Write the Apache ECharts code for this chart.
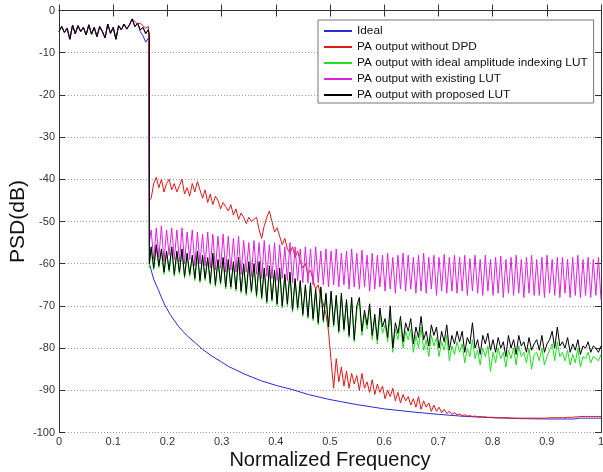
<!DOCTYPE html>
<html>
<head>
<meta charset="utf-8">
<script src="https://cdn.jsdelivr.net/npm/echarts@6/dist/echarts.min.js"></script>
<style>
html,body{margin:0;padding:0;background:#fff;}
#chart{width:603px;height:472px;}
</style>
</head>
<body>
<div id="chart"></div>
<script>
// ---------- data ----------
const SERIES_NAMES = ['Ideal', 'PA output without DPD', 'PA output with ideal amplitude indexing LUT', 'PA output with existing LUT', 'PA output with proposed LUT'];
const X_TICKS = [0, 0.1, 0.2, 0.3, 0.4, 0.5, 0.6, 0.7, 0.8, 0.9, 1];
const Y_TICKS = [-100, -90, -80, -70, -60, -50, -40, -30, -20, -10, 0];

// passband sample grid: 0 .. 0.165 step 0.005 ; band edge ; stopband grid 0.17 .. 1.0 (176 samples)
const PASS_STEP = 0.005, PASS_N = 34;
const BAND_EDGE = 0.1667;
const STOP_START = 0.17, STOP_END = 1.0, STOP_N = 176;

const PASS_BLACK = [-5.0, -3.8, -5.2, -4.2, -6.8, -3.5, -5.5, -3.6, -5.0, -4.0, -5.8, -3.4, -5.6, -4.0, -6.2, -3.8, -5.0, -6.5, -3.2, -5.4, -4.0, -6.8, -3.6, -4.6, -3.2, -4.4, -3.4, -2.0, -3.8, -3.0, -4.6, -4.0, -5.5, -4.5];
const PASS_RED   = [-5.0, -3.8, -5.2, -4.2, -6.8, -3.5, -5.5, -3.6, -5.0, -4.0, -5.8, -3.4, -5.6, -4.0, -6.2, -3.8, -5.0, -6.5, -3.2, -5.4, -4.0, -6.8, -3.6, -4.6, -3.2, -4.4, -3.4, -2.0, -2.6, -3.2, -3.0, -3.6, -4.2, -3.8];
const PASS_IDEAL = [-5.0, -3.8, -5.2, -4.2, -6.8, -3.5, -5.5, -3.6, -5.0, -4.0, -5.8, -3.4, -5.6, -4.0, -6.2, -3.8, -5.0, -6.5, -3.2, -5.4, -4.0, -6.8, -3.6, -4.6, -3.2, -4.4, -3.4, -2.0, -3.8, -3.0, -5.0, -6.0, -7.5, -6.5];

// band-edge [top, bottom] per series
const EDGE_IDEAL = [-6.5, -60];
const EDGE_RED = [-4, -45];
const EDGE_GREEN = [-6, -61];
const EDGE_MAGENTA = [-6, -55];
const EDGE_BLACK = [-6, -60];

// ideal (smooth) stopband
const IDEAL_FREQ = [0.1667, 0.17, 0.175, 0.183, 0.19, 0.196, 0.205, 0.22, 0.235, 0.251, 0.265, 0.282, 0.3, 0.312, 0.343, 0.374, 0.405, 0.43, 0.46, 0.5, 0.55, 0.6, 0.65, 0.7, 0.75, 0.8, 0.85, 0.9, 0.95, 0.96, 1.0];
const IDEAL_STOP = [-60, -61.5, -63.8, -66.1, -68.3, -70.0, -72.0, -74.8, -76.9, -78.7, -80.3, -81.9, -83.3, -84.3, -86.2, -87.8, -89.0, -89.8, -91.0, -92.2, -93.4, -94.4, -95.1, -95.7, -96.2, -96.5, -96.7, -96.8, -96.8, -96.6, -96.6];

const STOP_RED = [
  -44.5, -41, -39.5, -42, -40, -43, -41, -40, -42.5, -41,
  -43, -41.5, -40, -43.5, -42, -44, -41, -43, -40.5, -42.5,
  -44.5, -42.5, -45.5, -43.5, -46, -44, -45, -47, -45.5, -46.5,
  -47.5, -46, -48.5, -47, -49.5, -48, -49, -50.5, -49, -50,
  -49.5, -49, -52, -54, -51, -49, -47.5, -50, -52.5, -51.5,
  -53.5, -55.5, -54, -56.5, -57.5, -56, -58.5, -57, -59.5, -61,
  -60, -62.5, -61.5, -64, -66, -65, -68, -69.5, -72, -76,
  -83, -89.5, -82.5, -88, -84.5, -89, -85.5, -89.5, -86, -88.5,
  -86.5, -90, -86, -89.5, -88, -90.5, -87.5, -91, -88.5, -90.5,
  -89, -92, -90, -91.5, -89.5, -92.5, -90.5, -93, -91, -92.5,
  -91.5, -93.5, -92, -94, -91.5, -94.5, -92.5, -94, -93, -95,
  -93.5, -95, -94, -95.3, -94.5, -95.5, -95, -95.7, -95.3, -95.8,
  -95.6, -96, -95.8, -96.1, -96, -96.2, -96.1, -96.3, -96.2, -96.3,
  -96.3, -96.4, -96.4, -96.4, -96.5, -96.5, -96.5, -96.5, -96.5, -96.5,
  -96.6, -96.6, -96.6, -96.6, -96.6, -96.6, -96.6, -96.6, -96.6, -96.6,
  -96.6, -96.6, -96.6, -96.6, -96.6, -96.5, -96.5, -96.5, -96.5, -96.5,
  -96.5, -96.5, -96.4, -96.4, -96.4, -96.3, -96.3, -96.2, -96.2, -96.2,
  -96.2, -96.2, -96.2, -96.2, -96.2, -96.2
];

const STOP_GREEN = [
  -56.5, -61.5, -56, -61, -57, -62.5, -57.5, -62, -56.5, -63,
  -57.5, -62.5, -57, -63.5, -58, -63, -58.5, -64, -57.5, -64.5,
  -58.5, -64, -59, -65, -58, -65.5, -59.5, -65, -59, -66,
  -59.5, -66, -60, -66.5, -59, -67, -60.5, -67.5, -60, -67,
  -60.5, -68, -60, -68.5, -61.5, -69.5, -61, -69, -62, -70,
  -62, -70.5, -63, -70, -62.5, -71.5, -64, -71, -64.5, -72.5,
  -65.5, -73, -65, -73.5, -66.5, -74.5, -66, -74, -67.5, -75.5,
  -67, -75, -68, -76.5, -67.5, -76, -69, -77.5, -68.5, -78.5,
  -71, -69, -77, -72, -75.5, -70.5, -78, -73, -79, -72,
  -76.5, -74.5, -78.5, -72, -81, -75.5, -78, -74, -80, -76,
  -78, -75.5, -81, -77, -80, -75, -80.5, -78, -82, -77,
  -79.5, -77.5, -82, -78.5, -80.5, -77, -83, -79.5, -81.5, -78.5,
  -81, -79, -83.5, -80, -82, -78, -82.5, -80.5, -84, -80,
  -82, -79.5, -85.5, -81, -83.5, -80, -82.5, -81, -84.5, -80.5,
  -82.5, -80, -84, -79.5, -82, -81, -83.5, -80, -85, -81.5,
  -81, -83, -80, -84, -82, -80.5, -79, -83, -78.5, -82,
  -81, -83, -80.5, -84, -81.5, -83.5, -80, -84.5, -82, -82.5,
  -81, -83.5, -82, -82.5, -83, -81.5
];

const STOP_MAGENTA = [
  -52, -59, -51.5, -58.5, -51, -59.5, -52, -58, -51.5, -59,
  -52, -59.5, -51.5, -60, -52.5, -59, -52, -60.5, -52.5, -60,
  -53, -60.5, -52.5, -61, -53, -61.5, -53.5, -61, -53, -62,
  -53.5, -61.5, -54, -62, -53.5, -62.5, -54.5, -62, -55, -63,
  -54.5, -62.5, -55, -63.5, -54.5, -63, -55.5, -63.5, -55, -64,
  -55.5, -63.5, -56, -64, -55, -64.5, -56, -64, -56.5, -64.5,
  -56, -64.5, -56.5, -65, -56, -64.5, -57, -65, -56.5, -65.5,
  -57, -65, -56.5, -65.5, -57.5, -65, -57, -66, -56.5, -65.5,
  -57.5, -66, -56.8, -65.5, -58, -66.5, -57.5, -66, -58, -65.5,
  -58, -66.5, -57.5, -66, -58.5, -67, -58, -66, -57.5, -66.5,
  -58, -66, -58.5, -67, -58, -66.5, -57.5, -67, -58.5, -66,
  -58, -67.5, -58.5, -66.5, -57.8, -67, -58.5, -66.5, -58, -67,
  -58.5, -66.5, -58, -67.5, -58.8, -66.5, -58, -67, -59, -67.5,
  -58, -66.5, -59, -67.5, -58.5, -67, -58.2, -68, -59, -67,
  -58.5, -67.5, -58, -67, -59, -68, -58.5, -67, -58, -67.5,
  -59, -67.5, -58.5, -68, -58, -67, -59, -67.5, -58.5, -68,
  -58.5, -67, -59, -68, -58.5, -67.5, -58, -68, -59, -67.5,
  -58.5, -68, -59, -67.5, -58.5, -68.6
];

const STOP_BLACK = [
  -56, -61, -55.5, -60.5, -56.5, -62, -57, -61.5, -56, -62.5,
  -57, -62, -56.5, -63, -57.5, -62.5, -58, -63.5, -57, -64,
  -58, -63.5, -58.5, -64.5, -57.5, -65, -59, -64.5, -58.5, -65.5,
  -59, -65.5, -59.5, -66, -58.5, -66.5, -60, -67, -59.5, -66.5,
  -60, -67.5, -59.5, -68, -61, -69, -60.5, -68.5, -61.5, -69.5,
  -61, -70, -62.5, -69.5, -62, -71, -63.5, -70.5, -64, -72,
  -65, -72.5, -64.5, -73, -66, -74, -65.5, -73.5, -67, -75,
  -66.5, -74.5, -67.5, -76, -67, -75.5, -68.5, -77, -68, -78,
  -70, -68, -76, -71, -74.5, -69.5, -77, -72, -78, -70.5,
  -75, -73, -77.5, -70, -80, -74, -76.5, -72.5, -78.5, -74,
  -76, -73, -79, -75, -77.5, -72.5, -78, -76, -79.5, -74.5,
  -77, -75, -80, -76, -78.5, -74.5, -80.5, -77, -79, -76,
  -78.5, -76, -81, -77.5, -79, -74, -80, -78, -81.5, -77,
  -79, -76.5, -80.5, -78, -81, -77.5, -80, -78.5, -82, -77,
  -80, -78, -81.5, -77, -79.5, -78.5, -81, -77.5, -80.5, -79,
  -78, -80.5, -77, -81, -79, -78, -76, -80, -75, -79.5,
  -78.5, -80, -77.5, -81, -79, -80.5, -78, -81.5, -79.5, -80,
  -78.5, -81, -79.5, -80, -81, -79.5
];

// ---------- build point lists on the sampling grids ----------
const PASS_FREQ = Array.from({length: PASS_N}, (_, i) => +(i * PASS_STEP).toFixed(4));
const STOP_FREQ = Array.from({length: STOP_N}, (_, k) => STOP_START + k * (STOP_END - STOP_START) / (STOP_N - 1));

function build(pass, edge, stopFreq, stop) {
  const pts = pass.map((y, i) => [PASS_FREQ[i], y]);
  pts.push([BAND_EDGE, edge[0]]);
  pts.push([BAND_EDGE, edge[1]]);
  stop.forEach((y, k) => pts.push([stopFreq[k], y]));
  return pts;
}

const DATA = [
  build(PASS_IDEAL, EDGE_IDEAL, IDEAL_FREQ, IDEAL_STOP),
  build(PASS_RED, EDGE_RED, STOP_FREQ, STOP_RED),
  build(PASS_BLACK, EDGE_GREEN, STOP_FREQ, STOP_GREEN),
  build(PASS_BLACK, EDGE_MAGENTA, STOP_FREQ, STOP_MAGENTA),
  build(PASS_BLACK, EDGE_BLACK, STOP_FREQ, STOP_BLACK)
];
const COLORS = ['#2b2bd6', '#e01818', '#1ee01e', '#e020e0', '#000000'];

const FONT = 'Liberation Sans, Arial, Helvetica, sans-serif';
const AXIS_COLOR = '#333';

const chart = echarts.init(document.getElementById('chart'), null, {renderer: 'canvas'});
chart.setOption({
  backgroundColor: '#fff',
  animation: false,
  grid: {left: 59, right: 2, top: 10.5, bottom: 39.5, containLabel: false, outerBoundsMode: 'none'},
  legend: {
    orient: 'vertical', left: 318, top: 20,
    padding: [4, 6, 1, 5],
    itemWidth: 28, itemHeight: 14, itemGap: 2,
    backgroundColor: '#fff', borderColor: '#777', borderWidth: 1,
    itemStyle: {opacity: 0},
    textStyle: {fontFamily: FONT, fontSize: 11.8, color: '#111', lineHeight: 14, height: 14},
    data: SERIES_NAMES
  },
  xAxis: [{
    type: 'value', min: 0, max: 1, interval: 0.1,
    name: 'Normalized Frequency', nameLocation: 'middle', nameGap: 18, nameMoveOverlap: false,
    nameTextStyle: {fontFamily: FONT, fontSize: 20, color: '#111', verticalAlign: 'top'},
    axisLine: {show: true, lineStyle: {color: AXIS_COLOR, width: 1}},
    axisTick: {show: true, inside: true, length: 6, lineStyle: {color: AXIS_COLOR}},
    axisLabel: {fontFamily: FONT, fontSize: 11, color: '#333', margin: 4,
      formatter: v => { const t = X_TICKS.find(x => Math.abs(x - v) < 1e-6); return t === undefined ? '' : String(t); }},
    splitLine: {show: false}
  }, {
    type: 'value', position: 'top', min: 0, max: 1, interval: 0.1,
    axisLine: {show: true, onZero: false, lineStyle: {color: AXIS_COLOR, width: 1}},
    axisTick: {show: true, inside: true, length: 6, lineStyle: {color: AXIS_COLOR}},
    axisLabel: {show: false}, splitLine: {show: false}
  }],
  yAxis: [{
    type: 'value', min: -100, max: 0, interval: 10,
    name: 'PSD(dB)', nameLocation: 'middle', nameGap: 30, nameMoveOverlap: false,
    nameTextStyle: {fontFamily: FONT, fontSize: 21, color: '#111'},
    axisLine: {show: true, onZero: false, lineStyle: {color: AXIS_COLOR, width: 1}},
    axisTick: {show: true, inside: true, length: 6, lineStyle: {color: AXIS_COLOR}},
    axisLabel: {fontFamily: FONT, fontSize: 11, color: '#333', margin: 4,
      formatter: v => { const t = Y_TICKS.find(y => Math.abs(y - v) < 1e-6); return t === undefined ? '' : String(t); }},
    splitLine: {show: true, lineStyle: {color: '#999', type: [1, 2], width: 1}}
  }, {
    type: 'value', position: 'right', min: -100, max: 0, interval: 10,
    axisLine: {show: true, onZero: false, lineStyle: {color: AXIS_COLOR, width: 1}},
    axisTick: {show: true, inside: true, length: 6, lineStyle: {color: AXIS_COLOR}},
    axisLabel: {show: false}, splitLine: {show: false}
  }],
  series: SERIES_NAMES.map((name, i) => ({
    name, type: 'line', data: DATA[i],
    xAxisIndex: 0, yAxisIndex: 0,
    symbol: 'none', showSymbol: false, clip: true,
    lineStyle: {color: COLORS[i], width: 1},
    itemStyle: {color: COLORS[i]},
    emphasis: {disabled: true}
  }))
});
</script>
</body>
</html>
